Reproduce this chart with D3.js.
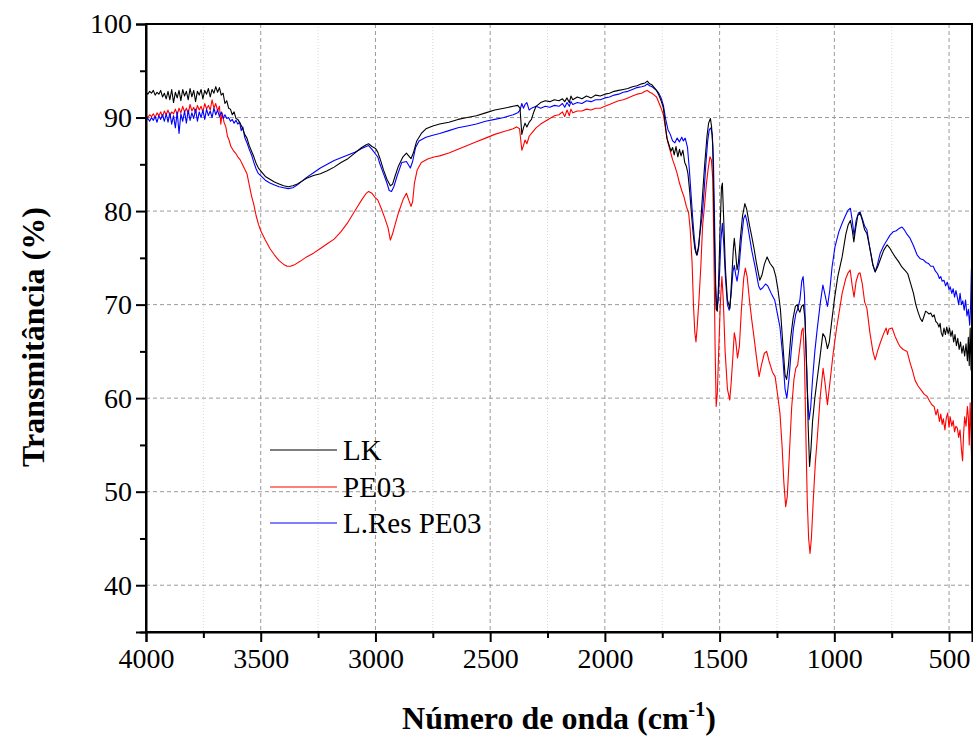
<!DOCTYPE html>
<html>
<head>
<meta charset="utf-8">
<script src="https://cdn.jsdelivr.net/npm/d3@7"></script>
<style>
  html, body { margin: 0; padding: 0; background: #ffffff; }
  svg { display: block; }
  text { font-family: "Liberation Serif", "Times New Roman", serif; fill: #000; }
</style>
</head>
<body>
<svg id="chart" width="973" height="737"></svg>
<script>
// FTIR spectra: wavenumber (cm-1), transmittance (%)
const lkSpectrum = [
  [4000,92.7],[3992,92.5],[3984,92.8],[3976,92.6],[3968,92.9],[3960,92.4],[3952,92.7],[3944,92.5],[3936,92.9],[3928,92.2],
  [3920,92.6],[3912,92.0],[3904,92.8],[3896,91.9],[3888,93.0],[3880,91.6],[3872,92.7],[3864,92.1],[3856,92.9],[3848,91.8],
  [3840,93.0],[3832,92.3],[3824,92.8],[3816,91.9],[3808,93.1],[3800,92.2],[3792,92.9],[3784,91.7],[3776,92.8],[3768,92.4],
  [3760,93.0],[3752,92.0],[3744,92.9],[3736,92.5],[3728,93.1],[3720,92.2],[3712,93.0],[3704,92.6],[3696,93.3],[3688,92.7],
  [3680,93.2],[3672,92.4],[3664,92.6],[3656,91.5],[3648,91.8],[3640,91.0],[3632,90.9],[3624,90.3],[3616,90.6],[3608,89.9],
  [3600,89.8],[3590,89.4],[3580,88.9],[3570,88.2],[3560,87.8],[3550,87.0],[3540,86.4],[3530,85.8],[3520,85.1],[3510,84.6],
  [3500,84.3],[3480,83.7],[3460,83.4],[3440,83.1],[3420,82.9],[3400,82.7],[3380,82.6],[3360,82.7],[3340,82.9],[3320,83.2],
  [3300,83.5],[3270,83.8],[3240,84.0],[3210,84.3],[3180,84.7],[3150,85.2],[3120,85.6],[3090,86.2],[3060,86.8],[3040,87.1],
  [3030,87.2],[3015,86.9],[3000,86.7],[2990,86.3],[2980,85.6],[2965,84.4],[2950,83.4],[2935,82.7],[2925,82.9],[2915,83.7],
  [2900,84.8],[2880,85.8],[2865,86.2],[2855,85.9],[2845,85.6],[2835,86.2],[2820,87.5],[2800,88.3],[2780,88.8],[2750,89.1],
  [2720,89.3],[2680,89.5],[2640,89.8],[2600,90.0],[2560,90.2],[2520,90.5],[2480,90.8],[2440,91.0],[2400,91.2],[2380,91.3],
  [2370,91.0],[2362,88.2],[2355,88.9],[2348,89.4],[2340,89.0],[2330,89.5],[2320,89.8],[2310,90.6],[2300,91.2],[2280,91.6],
  [2260,91.8],[2240,91.7],[2220,91.9],[2200,91.8],[2185,92.0],[2175,91.7],[2165,92.1],[2155,91.6],[2148,92.3],[2140,91.9],
  [2120,92.2],[2100,92.0],[2080,92.3],[2060,92.1],[2040,92.4],[2020,92.3],[2000,92.5],[1980,92.6],[1960,92.8],[1940,92.9],
  [1920,93.0],[1900,93.1],[1880,93.3],[1860,93.4],[1840,93.6],[1825,93.7],[1815,93.9],[1805,93.6],[1795,93.5],[1785,93.2],
  [1775,92.9],[1765,92.4],[1755,91.8],[1745,91.0],[1738,89.5],[1730,87.8],[1722,87.2],[1712,86.4],[1705,86.8],[1698,86.0],
  [1690,86.9],[1682,85.8],[1675,86.6],[1668,85.9],[1660,86.5],[1652,85.2],[1645,84.8],[1638,84.0],[1630,82.0],[1622,79.5],
  [1615,77.5],[1608,76.0],[1600,75.3],[1592,76.2],[1585,78.0],[1575,81.5],[1565,85.0],[1555,88.0],[1548,89.4],[1540,89.9],
  [1535,89.0],[1530,87.0],[1525,80.0],[1520,74.0],[1515,69.5],[1510,69.3],[1505,72.0],[1498,78.0],[1492,82.5],[1488,83.0],
  [1482,79.0],[1475,74.0],[1466,70.5],[1455,69.6],[1448,72.5],[1440,76.0],[1436,77.1],[1430,75.5],[1424,73.7],[1418,74.5],
  [1410,77.0],[1400,79.5],[1390,80.8],[1382,80.2],[1370,78.5],[1360,77.3],[1350,76.0],[1340,74.5],[1325,72.6],[1315,73.2],
  [1305,74.3],[1293,75.1],[1280,74.4],[1265,73.9],[1255,73.0],[1245,71.5],[1235,69.5],[1225,66.0],[1215,62.5],[1208,62.0],
  [1200,63.5],[1190,66.5],[1180,68.5],[1170,69.8],[1162,70.0],[1155,69.4],[1150,69.2],[1143,69.8],[1135,70.0],[1128,68.5],
  [1120,63.0],[1114,57.0],[1108,52.7],[1102,54.5],[1095,57.5],[1085,60.0],[1075,62.0],[1062,64.5],[1050,66.9],[1040,66.5],
  [1030,65.3],[1022,66.0],[1010,68.5],[1000,70.5],[985,73.0],[966,75.1],[950,77.5],[940,78.5],[930,79.0],[922,78.0],
  [915,76.7],[908,78.0],[898,79.5],[888,79.8],[878,79.0],[868,78.0],[858,77.6],[845,76.0],[832,74.3],[822,73.5],
  [812,74.0],[800,74.8],[785,75.8],[770,76.4],[760,76.1],[745,75.5],[735,75.1],[720,74.6],[705,74.0],[690,73.6],
  [680,73.3],[668,72.3],[655,71.2],[645,70.0],[635,69.2],[625,68.5],[617,68.2],[610,68.7],[602,69.3],[596,69.2],
  [588,69.0],[580,69.1],[572,68.7],[565,68.9],[558,68.2],[550,68.0],[544,67.6],[539,68.0],[534,67.0],[528,66.6],
  [522,67.5],[516,66.8],[510,67.6],[504,66.9],[498,67.5],[492,66.6],[486,67.2],[480,66.0],[474,66.8],[468,65.6],
  [462,66.4],[456,65.2],[450,66.0],[444,64.8],[438,65.6],[432,64.5],[426,65.8],[420,64.0],[416,66.5],[412,63.5],
  [408,67.5],[404,63.0],[400,65.0]
];

const pe03Spectrum = [
  [4000,90.2],[3992,90.0],[3984,90.3],[3976,90.1],[3968,90.4],[3960,90.0],[3952,90.5],[3944,90.2],[3936,90.6],[3928,90.1],
  [3920,90.7],[3912,90.3],[3904,90.8],[3896,90.2],[3888,90.6],[3880,90.4],[3872,90.9],[3864,90.3],[3856,91.0],[3848,90.5],
  [3840,91.2],[3832,90.6],[3824,91.0],[3816,90.4],[3808,91.4],[3800,90.7],[3792,91.1],[3784,90.5],[3776,91.3],[3768,90.8],
  [3760,91.2],[3752,90.6],[3744,91.5],[3736,90.9],[3728,91.3],[3720,90.8],[3712,91.9],[3704,91.0],[3696,91.5],[3688,90.7],
  [3680,91.2],[3674,89.3],[3668,90.5],[3660,89.5],[3652,89.0],[3645,88.0],[3638,87.6],[3630,86.9],[3620,86.5],[3610,86.2],
  [3600,85.8],[3590,85.5],[3580,85.0],[3570,84.5],[3560,84.0],[3550,82.8],[3540,81.6],[3530,80.7],[3520,79.5],[3510,78.6],
  [3500,77.9],[3480,76.9],[3460,76.0],[3440,75.3],[3420,74.7],[3400,74.3],[3385,74.1],[3370,74.1],[3350,74.3],[3330,74.6],
  [3300,75.1],[3270,75.5],[3240,76.0],[3210,76.5],[3180,77.0],[3150,77.8],[3120,78.8],[3100,79.6],[3080,80.4],[3060,81.2],
  [3040,81.9],[3030,82.1],[3015,81.9],[3000,81.4],[2990,81.2],[2975,80.3],[2960,79.3],[2945,78.2],[2935,76.9],[2925,77.6],
  [2915,78.5],[2900,79.8],[2880,81.2],[2865,81.9],[2855,81.2],[2845,80.5],[2838,81.0],[2830,83.0],[2818,84.4],[2800,85.2],
  [2770,85.6],[2740,85.8],[2720,85.9],[2680,86.2],[2640,86.6],[2600,87.0],[2560,87.4],[2520,87.8],[2480,88.2],[2440,88.5],
  [2400,88.8],[2385,89.0],[2372,88.8],[2362,86.5],[2355,87.0],[2348,87.6],[2340,87.2],[2330,88.0],[2320,88.3],[2300,88.9],
  [2280,89.3],[2260,89.6],[2240,89.9],[2220,90.2],[2200,90.3],[2185,90.6],[2175,90.1],[2165,90.8],[2155,90.2],[2148,90.9],
  [2140,90.5],[2120,90.7],[2100,90.7],[2080,90.9],[2060,90.8],[2040,91.0],[2020,91.0],[2000,91.2],[1980,91.4],[1960,91.6],
  [1940,91.8],[1920,91.9],[1900,92.1],[1880,92.3],[1860,92.5],[1840,92.6],[1825,92.8],[1815,92.9],[1805,92.7],[1795,92.6],
  [1785,92.4],[1775,92.2],[1765,91.6],[1755,91.0],[1745,90.3],[1735,88.7],[1725,87.3],[1715,86.4],[1705,85.5],[1695,84.8],
  [1685,84.0],[1675,83.0],[1665,82.2],[1655,81.5],[1645,80.5],[1635,79.8],[1628,78.0],[1620,74.5],[1614,70.0],[1608,67.0],
  [1603,66.0],[1598,67.5],[1590,70.5],[1582,74.0],[1574,78.5],[1566,80.5],[1558,82.8],[1550,84.5],[1542,85.8],[1536,85.5],
  [1530,83.5],[1525,76.0],[1520,66.0],[1515,59.1],[1510,60.5],[1504,65.0],[1497,70.0],[1490,73.0],[1484,70.5],[1476,65.0],
  [1466,61.0],[1456,59.8],[1450,61.5],[1442,64.5],[1436,67.0],[1430,66.2],[1422,64.3],[1414,65.5],[1405,69.5],[1395,72.8],
  [1388,73.9],[1380,73.0],[1370,70.5],[1360,68.4],[1350,66.5],[1340,64.5],[1328,62.3],[1318,63.5],[1305,64.8],[1295,65.0],
  [1285,64.0],[1270,62.8],[1258,62.3],[1248,60.5],[1237,58.4],[1228,55.0],[1220,51.0],[1212,48.4],[1205,49.5],[1196,54.0],
  [1186,59.0],[1176,62.0],[1168,63.2],[1160,63.5],[1150,65.5],[1142,67.2],[1136,67.5],[1130,64.0],[1124,56.0],[1118,49.0],
  [1112,45.0],[1106,43.4],[1100,45.0],[1092,49.0],[1083,53.0],[1075,55.5],[1062,60.0],[1049,63.2],[1040,61.5],[1030,59.3],
  [1020,61.5],[1005,64.8],[990,67.5],[966,71.2],[950,72.8],[940,73.4],[931,73.7],[922,72.0],[914,70.8],[905,72.5],
  [895,73.3],[888,73.4],[878,72.2],[868,70.3],[858,69.6],[845,67.0],[832,65.0],[822,64.1],[812,65.0],[800,65.9],
  [785,66.9],[774,67.5],[768,66.8],[762,67.4],[748,67.5],[735,66.6],[720,65.8],[713,65.5],[700,65.2],[683,65.0],
  [670,63.8],[660,63.0],[648,61.9],[635,61.3],[620,60.8],[608,60.4],[596,60.2],[585,59.7],[575,59.3],[565,59.1],
  [557,58.2],[550,58.8],[542,57.5],[536,58.3],[530,57.2],[525,57.8],[518,56.6],[512,57.9],[506,58.4],[500,56.9],
  [495,58.0],[488,57.0],[482,57.6],[476,56.4],[470,57.0],[464,56.8],[458,55.8],[452,56.6],[446,54.5],[441,53.3],
  [437,56.0],[432,58.0],[426,57.0],[420,59.1],[416,58.0],[412,55.0],[408,59.5],[404,56.0],[400,51.0]
];

const lresPe03Spectrum = [
  [4000,89.7],[3992,89.9],[3984,89.6],[3976,90.0],[3968,89.7],[3960,90.1],[3952,89.5],[3944,90.2],[3936,89.8],[3928,90.3],
  [3920,89.6],[3912,90.4],[3904,89.5],[3896,90.5],[3888,89.3],[3880,90.2],[3872,88.9],[3864,90.6],[3856,88.3],[3848,90.4],
  [3840,89.6],[3832,90.7],[3824,89.4],[3816,90.8],[3808,89.7],[3800,90.5],[3792,89.9],[3784,90.9],[3776,89.6],[3768,90.6],
  [3760,90.0],[3752,90.8],[3744,89.8],[3736,90.9],[3728,90.2],[3720,90.7],[3712,90.0],[3704,91.0],[3696,90.3],[3688,90.8],
  [3680,90.1],[3672,90.6],[3664,89.9],[3656,90.3],[3648,89.9],[3640,90.0],[3632,89.6],[3624,89.8],[3616,89.4],[3608,89.7],
  [3600,89.3],[3592,89.5],[3585,88.6],[3578,89.0],[3570,87.9],[3560,87.3],[3550,86.6],[3540,86.0],[3530,85.2],[3520,84.5],
  [3510,84.0],[3500,83.8],[3480,83.3],[3460,83.0],[3440,82.8],[3420,82.6],[3400,82.5],[3380,82.4],[3360,82.5],[3340,82.8],
  [3320,83.2],[3300,83.6],[3270,84.1],[3240,84.6],[3210,85.0],[3180,85.4],[3150,85.7],[3120,86.0],[3090,86.3],[3060,86.7],
  [3040,86.9],[3030,87.0],[3015,86.6],[3000,86.1],[2990,85.8],[2980,85.0],[2965,84.0],[2950,83.0],[2940,82.2],[2930,82.1],
  [2920,82.6],[2905,83.8],[2885,85.2],[2865,85.3],[2855,84.9],[2848,84.6],[2838,85.3],[2825,86.8],[2810,87.5],[2780,87.9],
  [2750,88.1],[2720,88.3],[2680,88.6],[2640,88.9],[2600,89.1],[2560,89.3],[2520,89.6],[2480,89.8],[2440,90.0],[2400,90.3],
  [2380,90.5],[2370,90.8],[2362,91.5],[2355,91.0],[2348,91.4],[2340,91.6],[2330,90.8],[2320,91.0],[2300,91.2],[2280,91.0],
  [2260,91.2],[2240,91.1],[2220,91.3],[2200,91.2],[2185,91.5],[2175,91.1],[2165,91.6],[2155,91.2],[2148,91.7],[2140,91.4],
  [2120,91.6],[2100,91.5],[2080,91.8],[2060,91.7],[2040,91.9],[2020,91.9],[2000,92.1],[1980,92.2],[1960,92.4],[1940,92.5],
  [1920,92.7],[1900,92.8],[1880,93.0],[1860,93.2],[1840,93.3],[1825,93.4],[1815,93.6],[1805,93.4],[1795,93.3],[1785,93.1],
  [1775,92.9],[1765,92.6],[1755,92.1],[1745,91.3],[1735,89.8],[1725,88.7],[1715,88.2],[1705,87.5],[1695,87.3],[1685,87.8],
  [1675,87.4],[1665,87.9],[1658,87.5],[1650,87.8],[1640,86.8],[1632,84.5],[1625,82.0],[1618,79.5],[1610,77.0],[1603,75.6],
  [1598,75.3],[1592,76.0],[1585,77.8],[1576,79.5],[1568,82.0],[1560,85.0],[1552,87.5],[1545,88.7],[1538,88.9],[1532,88.2],
  [1527,85.5],[1522,79.0],[1517,72.0],[1512,69.5],[1506,70.5],[1500,73.5],[1494,77.0],[1488,78.7],[1482,76.5],[1475,73.0],
  [1466,70.0],[1458,69.4],[1450,71.0],[1442,73.5],[1436,74.2],[1430,73.2],[1424,72.5],[1416,73.8],[1405,77.0],[1395,79.2],
  [1388,79.6],[1380,78.8],[1370,77.3],[1360,75.8],[1345,74.0],[1330,72.0],[1322,71.6],[1312,71.8],[1300,72.2],[1290,72.0],
  [1275,71.2],[1260,70.5],[1248,69.0],[1237,67.6],[1225,64.5],[1215,61.0],[1207,60.0],[1198,62.0],[1188,65.0],[1178,67.5],
  [1168,69.0],[1160,69.5],[1150,70.5],[1142,72.5],[1136,73.0],[1130,71.0],[1124,65.5],[1118,61.0],[1110,57.7],[1103,59.0],
  [1095,62.0],[1085,65.0],[1075,67.3],[1062,70.0],[1050,72.1],[1040,71.0],[1030,69.8],[1020,71.5],[1010,74.0],[997,76.2],
  [980,77.8],[966,78.7],[950,79.6],[940,80.1],[930,80.3],[922,79.0],[914,77.4],[905,79.0],[895,79.8],[888,79.9],
  [878,79.2],[868,78.4],[858,78.0],[845,76.0],[832,74.2],[822,73.5],[812,74.3],[800,75.5],[785,76.3],[770,76.9],
  [758,77.4],[743,77.8],[730,77.9],[720,78.1],[705,78.3],[695,78.0],[683,77.5],[670,77.1],[655,76.3],[639,75.3],
  [625,74.9],[613,74.8],[600,74.5],[590,74.4],[580,74.1],[569,74.1],[560,73.6],[550,73.3],[542,72.8],[536,73.0],
  [530,72.5],[522,72.6],[515,72.0],[508,72.4],[500,71.6],[495,71.9],[488,71.2],[482,71.7],[476,70.8],[470,71.5],
  [464,70.8],[458,70.0],[452,71.2],[446,70.0],[440,70.4],[434,69.4],[428,70.5],[422,68.8],[416,69.5],[410,67.8],
  [406,70.0],[403,73.5],[400,75.0]
];

const seriesNames = ["LK", "PE03", "L.Res PE03"];
const seriesColors = ["#000000", "#ff0000", "#0000ff"];
const xMajorTicks = [4000, 3500, 3000, 2500, 2000, 1500, 1000, 500];
const xMinorTicks = [3750, 3250, 2750, 2250, 1750, 1250, 750];
const yMajorTicks = [40, 50, 60, 70, 80, 90, 100];
const yMinorTicks = [35, 45, 55, 65, 75, 85, 95];

const serifFont = "'Liberation Serif', 'Times New Roman', serif";
const plot = { left: 146, right: 972, top: 24, bottom: 632 };
const svg = d3.select("#chart");

const x = d3.scaleLinear().domain([4000, 400]).range([plot.left, plot.right]);
const y = d3.scaleLinear().domain([35, 100]).range([plot.bottom, plot.top]);

// grid: faint dotted minor verticals, dashed major lines
const grid = svg.append("g");
grid.selectAll("line.vminor").data(xMinorTicks).join("line")
  .attr("x1", d => x(d)).attr("x2", d => x(d))
  .attr("y1", plot.top).attr("y2", plot.bottom)
  .attr("stroke", "#d8d8d8").attr("stroke-width", 1).attr("stroke-dasharray", "1,2");
grid.selectAll("line.vmajor").data(xMajorTicks.filter(d => d !== 4000)).join("line")
  .attr("x1", d => x(d)).attr("x2", d => x(d))
  .attr("y1", plot.top).attr("y2", plot.bottom)
  .attr("stroke", "#9a9a9a").attr("stroke-width", 1).attr("stroke-dasharray", "4,3");
grid.selectAll("line.hmajor").data(yMajorTicks.filter(d => d !== 100)).join("line")
  .attr("x1", plot.left).attr("x2", plot.right)
  .attr("y1", d => y(d)).attr("y2", d => y(d))
  .attr("stroke", "#9a9a9a").attr("stroke-width", 1).attr("stroke-dasharray", "4,3");

// spectra
svg.append("clipPath").attr("id", "plotClip").append("rect")
  .attr("x", plot.left).attr("y", plot.top)
  .attr("width", plot.right - plot.left).attr("height", plot.bottom - plot.top);

const line = d3.line().x(d => x(d[0])).y(d => y(d[1]));
const lines = svg.append("g").attr("clip-path", "url(#plotClip)");
[[pe03Spectrum, seriesColors[1]], [lresPe03Spectrum, seriesColors[2]], [lkSpectrum, seriesColors[0]]]
  .forEach(([data, color]) => {
    lines.append("path").datum(data)
      .attr("fill", "none").attr("stroke", color)
      .attr("stroke-width", 1.1).attr("stroke-linejoin", "round")
      .attr("d", line);
  });

// axes
const xAxis = svg.append("g").attr("transform", `translate(0,${plot.bottom})`);
xAxis.call(d3.axisBottom(x).tickValues(xMinorTicks).tickSize(6).tickFormat(""));
xAxis.call(g => g.select(".domain").remove());
svg.append("g").attr("transform", `translate(0,${plot.bottom})`)
  .call(d3.axisBottom(x).tickValues(xMajorTicks).tickSize(10).tickPadding(6).tickFormat(d3.format("d")));

const yAxis = svg.append("g").attr("transform", `translate(${plot.left},0)`);
yAxis.call(d3.axisLeft(y).tickValues(yMinorTicks).tickSize(6).tickFormat(""));
yAxis.call(g => g.select(".domain").remove());
svg.append("g").attr("transform", `translate(${plot.left},0)`)
  .call(d3.axisLeft(y).tickValues(yMajorTicks).tickSize(10).tickPadding(4).tickFormat(d3.format("d")));

svg.selectAll(".tick line").attr("stroke", "#000").attr("stroke-width", 2);
svg.selectAll(".domain").attr("stroke", "#000").attr("stroke-width", 2);
svg.selectAll(".tick text")
  .style("font-family", serifFont).style("font-size", "28px").attr("fill", "#000");

// frame (top and right)
svg.append("rect")
  .attr("x", plot.left).attr("y", plot.top)
  .attr("width", plot.right - plot.left).attr("height", plot.bottom - plot.top)
  .attr("fill", "none").attr("stroke", "#000").attr("stroke-width", 2);

// axis titles
const xTitle = svg.append("text")
  .attr("x", (plot.left + plot.right) / 2).attr("y", 729)
  .attr("text-anchor", "middle").attr("font-size", 32).attr("font-weight", "bold");
xTitle.append("tspan").text("Número de onda (cm");
xTitle.append("tspan").attr("font-size", 20).attr("dy", -13).text("-1");
xTitle.append("tspan").attr("dy", 13).text(")");

svg.append("text")
  .attr("transform", `translate(44,337) rotate(-90)`)
  .attr("text-anchor", "middle").attr("font-size", 32).attr("font-weight", "bold")
  .text("Transmitância (%)");

// legend
const legendRows = [
  { name: seriesNames[0], color: seriesColors[0], y: 450 },
  { name: seriesNames[1], color: seriesColors[1], y: 487 },
  { name: seriesNames[2], color: seriesColors[2], y: 523 }
];
const legend = svg.append("g");
legendRows.forEach(r => {
  legend.append("line").attr("x1", 270).attr("x2", 337).attr("y1", r.y).attr("y2", r.y)
    .attr("stroke", r.color).attr("stroke-width", 1.1);
  legend.append("text").attr("x", 343).attr("y", r.y + 10).attr("font-size", 29).text(r.name);
});
</script>
</body>
</html>
